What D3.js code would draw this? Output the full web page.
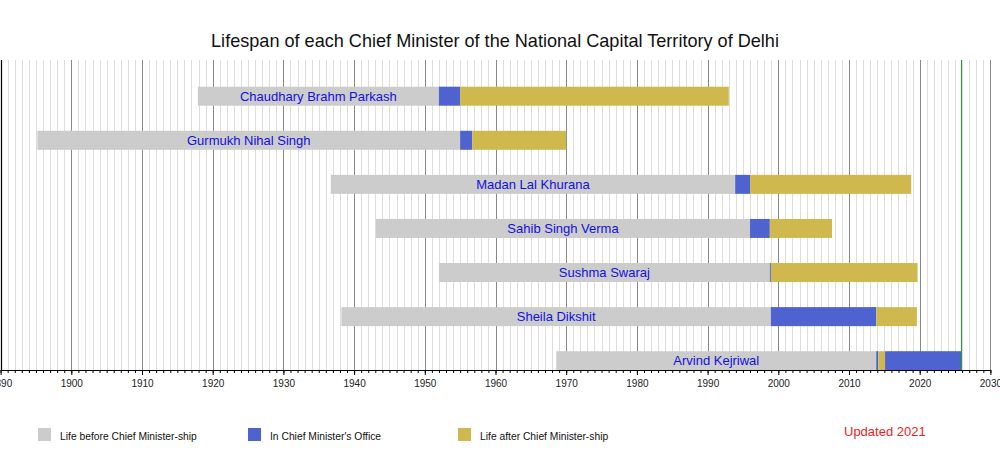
<!DOCTYPE html>
<html>
<head>
<meta charset="utf-8">
<script src="https://cdn.jsdelivr.net/npm/d3@7"></script>
<style>
  body { margin: 0; background: #fff; }
  svg text { font-family: "Liberation Sans", Arial, Helvetica, sans-serif; }
</style>
</head>
<body>
<svg id="chart" width="1000" height="450"></svg>
<script>
// Chief Ministers, top to bottom
const names = [
  'Chaudhary Brahm Parkash',
  'Gurmukh Nihal Singh',
  'Madan Lal Khurana',
  'Sahib Singh Verma',
  'Sushma Swaraj',
  'Sheila Dikshit',
  'Arvind Kejriwal'
];
const born = [1917.9, 1895.2, 1936.7, 1943.1, 1952.0, 1938.2, 1968.6];
// years in office, one [start, end] pair per term
const terms = [
  [[1952.0, 1955.0]],
  [[1955.0, 1956.7]],
  [[1993.9, 1996.0]],
  [[1996.0, 1998.8]],
  [[1998.8, 1998.95]],
  [[1998.95, 2013.85]],
  [[2013.85, 2014.15], [2015.1, 2025.9]]
];
// death (or "now" for the living)
const endOfLife = [1993.0, 1970.0, 2018.8, 2007.6, 2019.7, 2019.6, 2025.9];
const today = 2025.9;

const legendLabels = ['Life before Chief Minister-ship', "In Chief Minister's Office", 'Life after Chief Minister-ship'];
const colors = { before: '#cccccc', office: '#4f63d0', after: '#cfb94f' };

const svg = d3.select('#chart');
const plotTop = 60, plotBottom = 370;

const x = d3.scaleLinear().domain([1890, 2030]).range([0.6, 990.4]);
const y = d3.scalePoint().domain(names).range([96.2, 360.7]);
const barH = 19;

// Title
svg.append('text')
  .attr('x', 495).attr('y', 47)
  .attr('text-anchor', 'middle').attr('font-size', '18.1px').attr('fill', '#111')
  .text('Lifespan of each Chief Minister of the National Capital Territory of Delhi');

// Grid lines: every year light, every decade darker
const years = d3.range(1891, 2030);
svg.append('g').selectAll('line')
  .data(years.filter(yr => yr % 10 !== 0))
  .join('line')
  .attr('x1', d => Math.round(x(d)) + 0.5).attr('x2', d => Math.round(x(d)) + 0.5)
  .attr('y1', plotTop).attr('y2', plotBottom)
  .attr('stroke', '#dddddd').attr('stroke-width', 1);

svg.append('g').selectAll('line')
  .data(d3.range(1900, 2031, 10))
  .join('line')
  .attr('x1', d => Math.round(x(d)) + 0.5).attr('x2', d => Math.round(x(d)) + 0.5)
  .attr('y1', plotTop).attr('y2', plotBottom)
  .attr('stroke', '#888888').attr('stroke-width', 1);

// left edge
svg.append('line')
  .attr('x1', 1.5).attr('x2', 1.5).attr('y1', plotTop).attr('y2', plotBottom)
  .attr('stroke', '#000').attr('stroke-width', 1.2);

// Bars
names.forEach((name, i) => {
  const cy = y(name);
  const t = terms[i];
  const segs = [];
  segs.push({ from: born[i], to: t[0][0], type: 'before' });
  t.forEach((tr, j) => {
    segs.push({ from: tr[0], to: tr[1], type: 'office' });
    const next = j < t.length - 1 ? t[j + 1][0] : endOfLife[i];
    if (next > tr[1]) segs.push({ from: tr[1], to: next, type: 'after' });
  });

  svg.append('g').selectAll('rect')
    .data(segs)
    .join('rect')
    .attr('x', d => x(d.from))
    .attr('y', cy - barH / 2)
    .attr('width', d => Math.max(1, x(d.to) - x(d.from)))
    .attr('height', barH)
    .attr('fill', d => colors[d.type]);

  // name centred on the "before" part
  svg.append('text')
    .attr('x', (x(born[i]) + x(t[0][0])) / 2)
    .attr('y', cy + 4.6)
    .attr('text-anchor', 'middle').attr('font-size', '13px').attr('fill', '#1010e0')
    .text(name);
});

// "now" marker
svg.append('line')
  .attr('x1', Math.round(x(today)) + 0.5).attr('x2', Math.round(x(today)) + 0.5)
  .attr('y1', plotTop).attr('y2', plotBottom)
  .attr('stroke', '#22a022').attr('stroke-width', 1);

// Axis
const axisMinor = d3.axisBottom(x).tickValues(d3.range(1890, 2031)).tickSize(3).tickFormat('');
const gMinor = svg.append('g').attr('transform', `translate(0,${plotBottom})`).call(axisMinor);
const axisMajor = d3.axisBottom(x).tickValues(d3.range(1890, 2031, 10)).tickSize(5).tickPadding(5).tickFormat(d3.format('d'));
const gMajor = svg.append('g').attr('transform', `translate(0,${plotBottom})`).call(axisMajor);
gMinor.select('.domain').remove();
gMajor.select('.domain').attr('stroke', '#000').attr('d', `M${x(1890)},0.5H${x(2030)}`);
gMinor.selectAll('.tick line').attr('stroke', '#000');
gMajor.selectAll('.tick line').attr('stroke', '#000');
gMajor.selectAll('.tick text')
  .attr('font-size', '10px').attr('fill', '#222')
  .attr('font-family', '"Liberation Sans", Arial, sans-serif');

// Legend
const legendX = [38, 248, 458];
const legendKeys = ['before', 'office', 'after'];
legendLabels.forEach((lab, i) => {
  svg.append('rect')
    .attr('x', legendX[i]).attr('y', 428).attr('width', 13).attr('height', 13)
    .attr('fill', colors[legendKeys[i]]);
  svg.append('text')
    .attr('x', legendX[i] + 22).attr('y', 440)
    .attr('font-size', '10.3px').attr('fill', '#111')
    .text(lab);
});

svg.append('text')
  .attr('x', 844).attr('y', 436)
  .attr('font-size', '13px').attr('fill', '#ee1c1c')
  .text('Updated 2021');
</script>
</body>
</html>
